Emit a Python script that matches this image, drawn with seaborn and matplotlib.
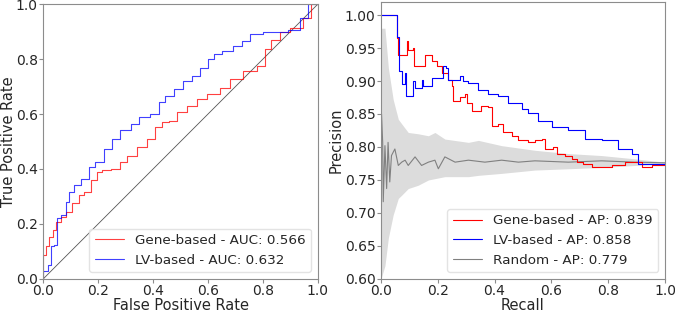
import matplotlib
matplotlib.use("Agg")
import matplotlib.pyplot as plt
import seaborn as sns
import pandas as pd

# -------------------------
# ROC curves
# -------------------------
gene_fpr = [0.0, 0.0, 0.01, 0.022, 0.034, 0.046, 0.064, 0.082, 0.106, 0.13, 0.149,
            0.173, 0.197, 0.215, 0.245, 0.281, 0.306, 0.342, 0.378, 0.408, 0.432,
            0.457, 0.487, 0.523, 0.559, 0.595, 0.644, 0.68, 0.728, 0.777, 0.807,
            0.831, 0.861, 0.897, 0.946, 0.976, 1.0]
gene_tpr = [0.0, 0.05, 0.088, 0.118, 0.154, 0.178, 0.208, 0.227, 0.245, 0.275, 0.305,
            0.317, 0.359, 0.389, 0.395, 0.401, 0.425, 0.449, 0.48, 0.51, 0.552,
            0.57, 0.576, 0.606, 0.63, 0.654, 0.672, 0.696, 0.727, 0.757, 0.775,
            0.835, 0.871, 0.9, 0.913, 0.949, 1.0]

lv_fpr = [0.0, 0.0, 0.016, 0.028, 0.04, 0.052, 0.064, 0.082, 0.094, 0.112, 0.136,
          0.167, 0.19, 0.22, 0.25, 0.281, 0.318, 0.348, 0.39, 0.42, 0.444, 0.475,
          0.51, 0.541, 0.571, 0.6, 0.62, 0.65, 0.692, 0.722, 0.752, 0.8, 0.849,
          0.891, 0.933, 0.964, 1.0]
lv_tpr = [0.0, 0.018, 0.028, 0.052, 0.118, 0.124, 0.22, 0.233, 0.28, 0.317, 0.341,
          0.365, 0.407, 0.425, 0.473, 0.51, 0.54, 0.564, 0.588, 0.6, 0.642, 0.666,
          0.69, 0.72, 0.739, 0.769, 0.8, 0.817, 0.829, 0.847, 0.865, 0.892, 0.899,
          0.9, 0.907, 0.949, 1.0]

roc_labels = ["Gene-based - AUC: 0.566", "LV-based - AUC: 0.632"]

# -------------------------
# Precision-recall curves
# -------------------------
gene_rec = [0.0, 0.052, 0.055, 0.061, 0.09, 0.096, 0.114, 0.117, 0.155, 0.178, 0.196,
            0.214, 0.237, 0.249, 0.255, 0.278, 0.296, 0.302, 0.319, 0.354, 0.378,
            0.39, 0.413, 0.43, 0.46, 0.484, 0.519, 0.542, 0.566, 0.577, 0.607,
            0.619, 0.648, 0.671, 0.689, 0.712, 0.742, 0.777, 0.812, 0.859, 0.894,
            0.918, 0.953, 1.0]
gene_prec = [1.0, 1.0, 0.965, 0.94, 0.96, 0.947, 0.95, 0.922, 0.94, 0.93, 0.922,
             0.912, 0.902, 0.892, 0.87, 0.875, 0.88, 0.867, 0.855, 0.862, 0.86,
             0.832, 0.835, 0.822, 0.817, 0.81, 0.807, 0.81, 0.812, 0.797, 0.8,
             0.79, 0.787, 0.782, 0.777, 0.774, 0.769, 0.769, 0.772, 0.777, 0.777,
             0.769, 0.772, 0.776]

lv_rec = [0.0, 0.052, 0.055, 0.063, 0.073, 0.085, 0.088, 0.114, 0.12, 0.143, 0.149,
          0.178, 0.219, 0.23, 0.237, 0.278, 0.29, 0.308, 0.343, 0.378, 0.413,
          0.448, 0.495, 0.519, 0.554, 0.601, 0.66, 0.718, 0.777, 0.836, 0.883,
          0.906, 0.941, 1.0]
lv_prec = [1.0, 1.0, 0.967, 0.915, 0.895, 0.912, 0.877, 0.9, 0.89, 0.902, 0.892,
           0.905, 0.922, 0.92, 0.902, 0.907, 0.9, 0.897, 0.887, 0.88, 0.877,
           0.867, 0.857, 0.852, 0.84, 0.83, 0.825, 0.812, 0.81, 0.797, 0.79,
           0.774, 0.774, 0.776]

rand_rec = [0.002, 0.006, 0.008, 0.014, 0.02, 0.025, 0.031, 0.037, 0.049, 0.061,
            0.073, 0.085, 0.096, 0.12, 0.143, 0.167, 0.19, 0.202, 0.225, 0.261,
            0.308, 0.366, 0.425, 0.484, 0.542, 0.66, 0.777, 0.894, 1.0]
rand_prec = [0.85, 0.807, 0.717, 0.802, 0.737, 0.807, 0.747, 0.787, 0.797, 0.772,
             0.777, 0.78, 0.772, 0.785, 0.772, 0.777, 0.78, 0.767, 0.785, 0.777,
             0.78, 0.777, 0.78, 0.777, 0.779, 0.777, 0.779, 0.777, 0.776]

band_rec = [0.0, 0.014, 0.026, 0.043, 0.061, 0.073, 0.096, 0.131, 0.167, 0.19,
            0.225, 0.308, 0.343, 0.425, 0.542, 0.66, 0.777, 0.894, 1.0]
band_hi = [0.98, 0.98, 0.92, 0.872, 0.842, 0.835, 0.822, 0.82, 0.817, 0.822,
           0.812, 0.807, 0.81, 0.802, 0.795, 0.79, 0.787, 0.782, 0.777]
band_lo = [0.6, 0.62, 0.662, 0.697, 0.722, 0.727, 0.737, 0.742, 0.75, 0.752,
           0.755, 0.755, 0.757, 0.76, 0.765, 0.767, 0.769, 0.772, 0.774]

pr_labels = ["Gene-based - AP: 0.839", "LV-based - AP: 0.858", "Random - AP: 0.779"]
prec_ticks = [0.60, 0.65, 0.70, 0.75, 0.80, 0.85, 0.90, 0.95, 1.00]

# -------------------------
# Plot
# -------------------------
sns.set_style("ticks", {"axes.edgecolor": "#8c8c8c"})
plt.rcParams["font.family"] = ["DejaVu Sans"]

fig = plt.figure(figsize=(6.75, 3.12), dpi=100)
ax1 = fig.add_axes([0.064, 0.106, 0.407, 0.881])
ax2 = fig.add_axes([0.5644, 0.106, 0.4207, 0.886])

roc_df = pd.concat([
    pd.DataFrame({"fpr": gene_fpr, "tpr": gene_tpr, "model": roc_labels[0]}),
    pd.DataFrame({"fpr": lv_fpr, "tpr": lv_tpr, "model": roc_labels[1]}),
])
ax1.plot([0, 1], [0, 1], color="#555555", lw=0.6)
for lab, col in zip(roc_labels, ["red", "blue"]):
    d = roc_df[roc_df["model"] == lab]
    ax1.plot(d["fpr"], d["tpr"], color=col, lw=0.8, alpha=0.75,
             drawstyle="steps-pre", label=lab)
ax1.set_xlim(0, 1)
ax1.set_ylim(0, 1)
ax1.set_xlabel("False Positive Rate", fontsize=10.5, labelpad=0)
ax1.set_ylabel("True Positive Rate", fontsize=10.5, labelpad=0)
ax1.tick_params(labelsize=10, length=3, color="#8c8c8c", pad=1)
ax1.legend(loc="lower right", fontsize=9.7, handlelength=2.2, edgecolor="#dddddd")

ax2.fill_between(band_rec, band_lo, band_hi, color="#dcdcdc", lw=0)
sns.lineplot(x=rand_rec, y=rand_prec, ax=ax2, color="gray", lw=0.8,
             estimator=None, sort=False, label=pr_labels[2])
sns.lineplot(x=gene_rec, y=gene_prec, ax=ax2, color="red", lw=0.8,
             estimator=None, sort=False, drawstyle="steps-post", label=pr_labels[0])
sns.lineplot(x=lv_rec, y=lv_prec, ax=ax2, color="blue", lw=0.8,
             estimator=None, sort=False, drawstyle="steps-post", label=pr_labels[1])
ax2.set_xlim(0, 1)
ax2.set_ylim(0.6, 1.019)
ax2.set_yticks(prec_ticks)
ax2.set_yticklabels([f"{t:.2f}" for t in prec_ticks])
ax2.set_xlabel("Recall", fontsize=10.5, labelpad=0)
ax2.set_ylabel("Precision", fontsize=10.5, labelpad=1)
ax2.tick_params(labelsize=10, length=3, color="#8c8c8c", pad=1)
h, l = ax2.get_legend_handles_labels()
order = [1, 2, 0]
ax2.legend([h[i] for i in order], [l[i] for i in order], loc="lower right",
           fontsize=9.7, handlelength=2.2, edgecolor="#dddddd")

fig.savefig("out.png", dpi=100)
